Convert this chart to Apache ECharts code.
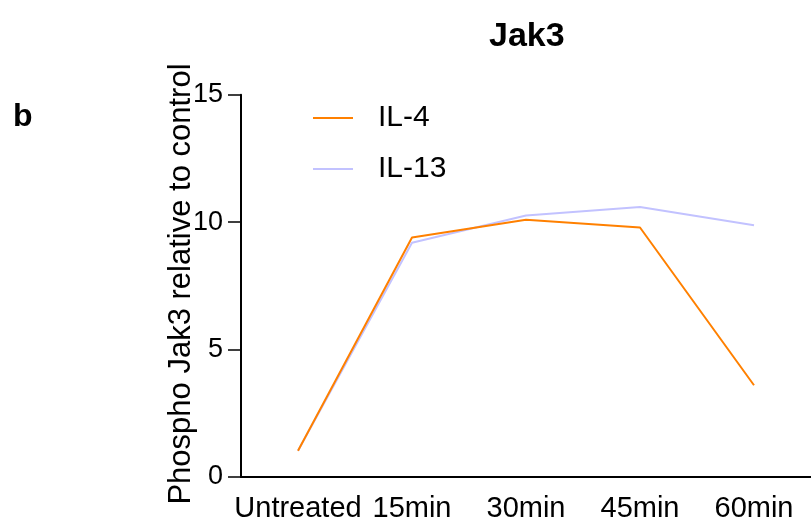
<!DOCTYPE html>
<html>
<head>
<meta charset="utf-8">
<script src="https://cdn.jsdelivr.net/npm/echarts@6/dist/echarts.min.js"></script>
<style>
html,body{margin:0;padding:0;background:#fff;}
#chart{width:811px;height:523px;}
</style>
</head>
<body>
<div id="chart"></div>
<script>
const categories = ['Untreated', '15min', '30min', '45min', '60min'];
const il4 = [1.03, 9.40, 10.09, 9.79, 3.60];
const il13 = [1.03, 9.19, 10.26, 10.59, 9.88];
const yTicks = { min: 0, max: 15, interval: 5 };
const yTitle = 'Phospho Jak3 relative to control';

const FONT = '"Liberation Sans", Arial, sans-serif';
const chart = echarts.init(document.getElementById('chart'), null, { renderer: 'canvas' });

chart.setOption({
  animation: false,
  backgroundColor: '#ffffff',
  title: {
    text: 'Jak3',
    left: 489,
    top: 20,
    padding: 0,
    textStyle: { fontFamily: FONT, fontWeight: 'bold', fontSize: 34, lineHeight: 34, color: '#000' }
  },
  graphic: [
    {
      type: 'text',
      left: 13,
      top: 101,
      style: { text: 'b', font: 'bold 32px ' + FONT, fill: '#000' }
    },
    {
      type: 'text',
      x: 181,
      y: 284,
      rotation: Math.PI / 2,
      style: {
        text: yTitle, font: '31px ' + FONT, fill: '#000',
        align: 'center', verticalAlign: 'middle'
      }
    }
  ],
  legend: {
    orient: 'vertical',
    left: 313,
    top: 103,
    padding: 0,
    icon: 'rect',
    itemWidth: 40,
    itemHeight: 2,
    itemGap: 21,
    data: ['IL-4', 'IL-13'],
    textStyle: { fontFamily: FONT, fontSize: 30, lineHeight: 30, color: '#000', padding: [0, 0, 0, 20] }
  },
  grid: { left: 241, right: -4, top: 94.7, bottom: 45.7, containLabel: false },
  xAxis: {
    type: 'category',
    data: categories,
    boundaryGap: true,
    axisLine: { lineStyle: { color: '#000', width: 2 } },
    axisTick: { alignWithLabel: true, length: 13, lineStyle: { color: '#000', width: 1.5 } },
    axisLabel: { fontFamily: FONT, fontSize: 29, color: '#000', margin: 17, interval: 0 },
    splitLine: { show: false }
  },
  yAxis: {
    type: 'value',
    min: yTicks.min,
    max: yTicks.max,
    interval: yTicks.interval,
    axisLine: { show: true, lineStyle: { color: '#000', width: 2 } },
    axisTick: { show: true, length: 13, lineStyle: { color: '#000', width: 1.5 } },
    axisLabel: { fontFamily: FONT, fontSize: 27, color: '#000', margin: 18 },
    splitLine: { show: false }
  },
  series: [
    {
      name: 'IL-4', type: 'line', data: il4, symbol: 'none', z: 3,
      lineStyle: { color: '#ff8000', width: 2 }, itemStyle: { color: '#ff8000' }
    },
    {
      name: 'IL-13', type: 'line', data: il13, symbol: 'none', z: 2,
      lineStyle: { color: '#c2c2ff', width: 2 }, itemStyle: { color: '#c2c2ff' }
    }
  ]
});
</script>
</body>
</html>
